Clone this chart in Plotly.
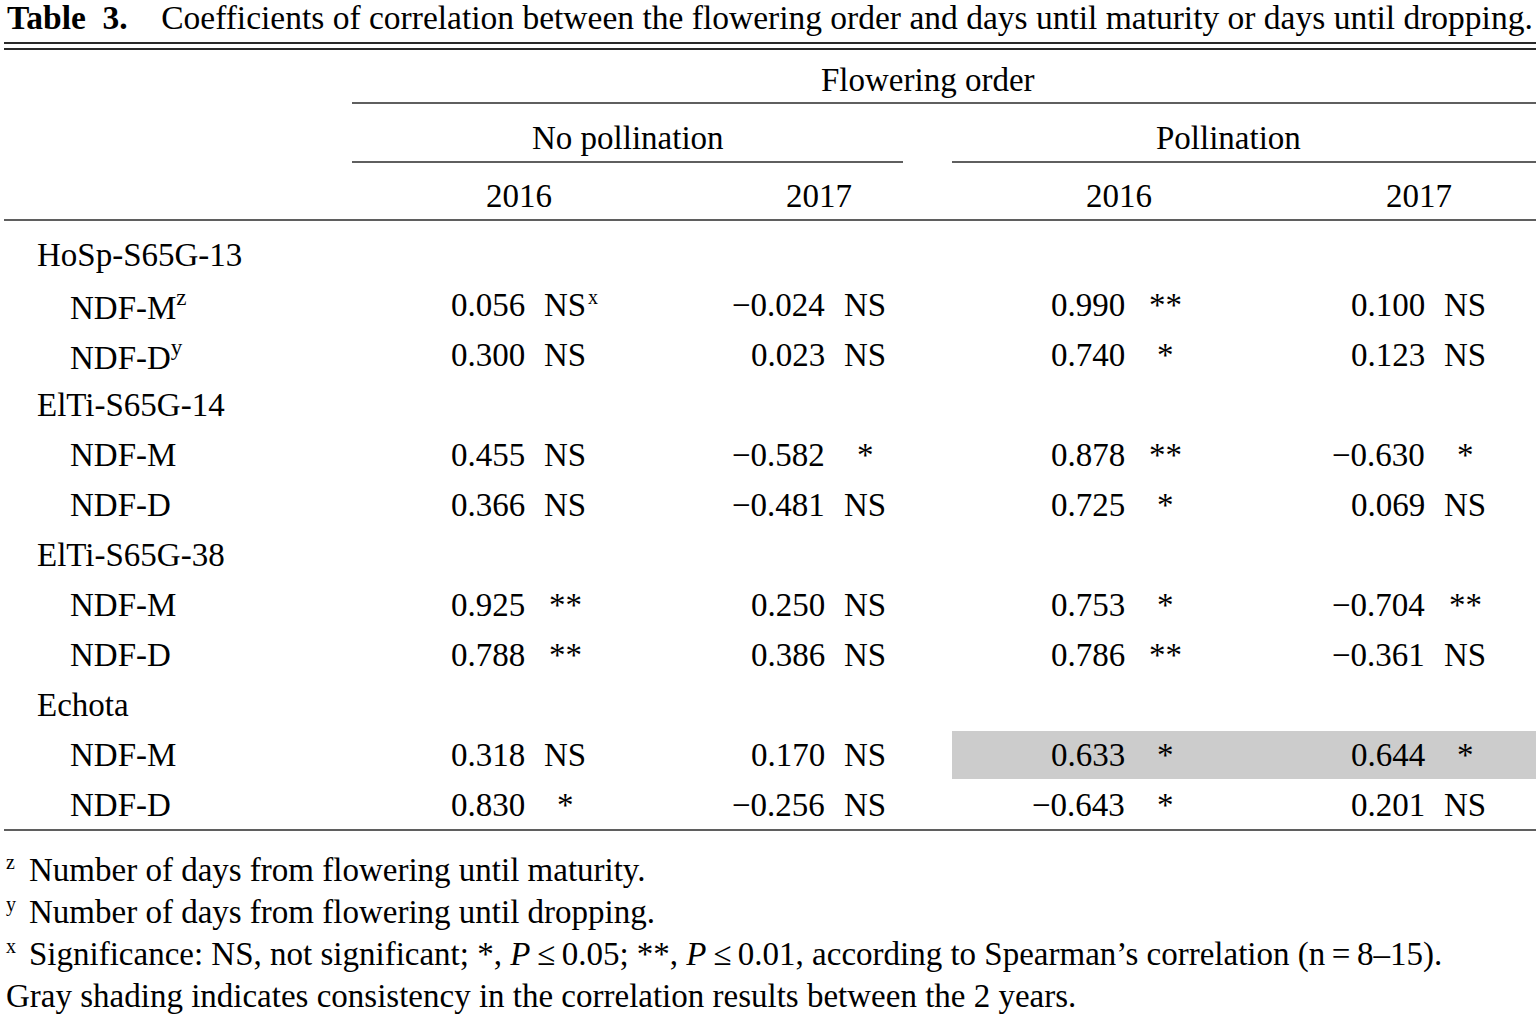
import plotly.graph_objects as go

# ---------------- data ----------------
title_label = "Table\u00a0\u00a03."
title_text = "Coefficients of correlation between the flowering order and days until maturity or days until dropping."
top_header = "Flowering order"
treatments = ["No pollination", "Pollination"]
years = ["2016", "2017", "2016", "2017"]
genotypes = ["HoSp-S65G-13", "ElTi-S65G-14", "ElTi-S65G-38", "Echota"]
traits = ["NDF-M", "NDF-D"]
trait_marks_first = ["z", "y"]

# columns: No poll 2016, No poll 2017, Poll 2016, Poll 2017 ; rows: genotype x trait
nopoll_2016 = [0.056, 0.300, 0.455, 0.366, 0.925, 0.788, 0.318, 0.830]
nopoll_2017 = [-0.024, 0.023, -0.582, -0.481, 0.250, 0.386, 0.170, -0.256]
poll_2016 = [0.990, 0.740, 0.878, 0.725, 0.753, 0.786, 0.633, -0.643]
poll_2017 = [0.100, 0.123, -0.630, 0.069, -0.704, -0.361, 0.644, 0.201]

sig_nopoll_2016 = ["NS", "NS", "NS", "NS", "**", "**", "NS", "*"]
sig_nopoll_2017 = ["NS", "NS", "*", "NS", "NS", "NS", "NS", "NS"]
sig_poll_2016 = ["**", "*", "**", "*", "*", "**", "*", "*"]
sig_poll_2017 = ["NS", "NS", "*", "NS", "**", "NS", "*", "NS"]

shaded_row = 6          # Echota NDF-M
shaded_cols = [2, 3]    # pollination columns

footnotes = [
    ("z", "Number of days from flowering until maturity."),
    ("y", "Number of days from flowering until dropping."),
    ("x", "Significance: NS, not significant; *, <i>P</i>\u2009\u2264\u20090.05; **, <i>P</i>\u2009\u2264\u20090.01, "
          "according to Spearman\u2019s correlation (n\u2009=\u20098\u201315)."),
    ("", "Gray shading indicates consistency in the correlation results between the 2 years."),
]

values = [nopoll_2016, nopoll_2017, poll_2016, poll_2017]
sigs = [sig_nopoll_2016, sig_nopoll_2017, sig_poll_2016, sig_poll_2017]

# ---------------- layout constants ----------------
W, H = 1538, 1014
FONT = "Liberation Serif, Times New Roman, serif"
FS = 33
INK = "#000000"
RULE = "#2a2a2a"

x_left = 4
x_right = 1536
x_group = 35
x_trait = 68
num_right = [527, 827, 1127, 1427]
sig_center = [565, 865, 1165, 1465]
year_center = [519, 819, 1119, 1419]
treat_span = [(352, 903), (952, 1536)]
treat_center = [628, 1228]
top_center = 928
row_y0 = 255
row_dy = 50

fig = go.Figure()
ann = []
shapes = []


def text(x, y, s, anchor="center", size=FS, **kw):
    ann.append(dict(x=x, y=y, xref="x", yref="y", text=s, showarrow=False,
                    xanchor=anchor, yanchor="middle",
                    font=dict(family=FONT, size=size, color=INK), **kw))


def hline(x0, x1, y, w=1.5):
    shapes.append(dict(type="line", xref="x", yref="y", x0=x0, x1=x1, y0=y, y1=y,
                       line=dict(color=RULE, width=w)))


def fmt(v):
    s = f"{abs(v):.3f}"
    return ("\u2212" + s) if v < 0 else s


# title
text(x_left + 1, 17, f"<b>{title_label}</b>\u00a0\u00a0\u00a0\u00a0{title_text}", anchor="left", size=33.5)

# rules
hline(x_left, x_right, 43, 2)
hline(x_left, x_right, 49, 2)
hline(treat_span[0][0], x_right, 103)
for a, b in treat_span:
    hline(a, b, 162)
hline(x_left, x_right, 220)

# headers
text(top_center, 80, top_header)
for xc, t in zip(treat_center, treatments):
    text(xc, 138, t)
for xc, yr in zip(year_center, years):
    text(xc, 196, yr)

# shading of consistent cells
for gi in range(len(genotypes)):
    for ti in range(len(traits)):
        idx = gi * 2 + ti
        if idx == shaded_row:
            y = row_y0 + row_dy * (gi * 3 + ti + 1)
            x0 = treat_span[1][0] if shaded_cols[0] == 2 else treat_span[0][0]
            shapes.append(dict(type="rect", xref="x", yref="y", x0=x0, x1=x_right,
                               y0=y - 24, y1=y + 24, fillcolor="#cccccc", line=dict(width=0),
                               layer="below"))

# body
for gi, g in enumerate(genotypes):
    yg = row_y0 + row_dy * (gi * 3)
    text(x_group, yg, g, anchor="left")
    for ti, tr in enumerate(traits):
        idx = gi * 2 + ti
        y = row_y0 + row_dy * (gi * 3 + ti + 1)
        label = tr + (f"<sup>{trait_marks_first[ti]}</sup>" if gi == 0 else "")
        text(x_trait, y, label, anchor="left")
        for c in range(4):
            text(num_right[c], y, fmt(values[c][idx]), anchor="right")
            s = sigs[c][idx]
            text(sig_center[c], y, s)
            if gi == 0 and ti == 0 and c == 0:
                text(sig_center[c] + 21, y - 8, "x", anchor="left", size=20)

# bottom rule
hline(x_left, x_right, 830)

# footnotes
foot_y = [870, 912, 954, 996]
for (mk, s), y in zip(footnotes, foot_y):
    if mk:
        text(x_left, y - 8, mk, anchor="left", size=20)
        text(27, y, s, anchor="left")
    else:
        text(x_left, y, s, anchor="left")

fig.update_layout(
    width=W, height=H, margin=dict(l=0, r=0, t=0, b=0),
    paper_bgcolor="white", plot_bgcolor="white",
    xaxis=dict(range=[0, W], visible=False, fixedrange=True),
    yaxis=dict(range=[H, 0], visible=False, fixedrange=True),
    annotations=ann, shapes=shapes, showlegend=False,
)
fig.write_html("out.html", config={"displayModeBar": False},
               post_script="document.body.style.margin='0';document.body.style.overflow='hidden';")
